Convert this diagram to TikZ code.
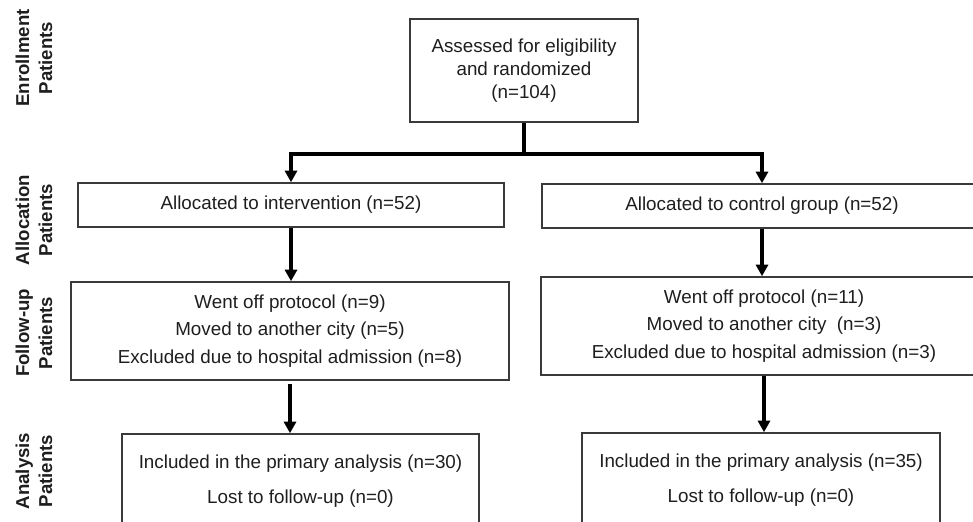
\documentclass[tikz,border=0pt]{standalone}
\usepackage{fontspec}
\setmainfont{Liberation Sans}
\usepackage{tikz}
\usetikzlibrary{arrows.meta}
\definecolor{boxgray}{HTML}{3a3a3a}
\definecolor{inkgray}{HTML}{1e1e1e}

\begin{document}
\begin{tikzpicture}[
    box/.style={draw=boxgray, line width=0.9pt, inner sep=0pt, align=center,
                text=inkgray, font=\fontsize{10.7}{13}\selectfont},
    phase/.style={rotate=90, align=center, text=inkgray,
                  font=\bfseries\fontsize{10.6}{13}\selectfont},
    link/.style={line width=2pt, black},
    arrow/.style={link, -{Triangle[length=0.23cm, width=0.24cm]}}
]
\useasboundingbox (0,0) rectangle (19.46,-10.42);

% phase labels on the left
\node[phase] (pEnroll) at (0.68,-1.16) {Enrollment\\Patients};
\node[phase] (pAlloc) at (0.68,-4.40) {Allocation\\Patients};
\node[phase] (pFollow) at (0.68,-6.66) {Follow-up\\Patients};
\node[phase] (pAnalysis) at (0.68,-9.42) {Analysis\\Patients};

% boxes
\node[box, minimum width=4.56cm, minimum height=2.06cm] (enroll) at (10.48,-1.41)
    {Assessed for eligibility\\and randomized\\(n=104)};
\node[box, minimum width=8.52cm, minimum height=0.88cm] (alloc1) at (5.82,-4.10)
    {Allocated to intervention (n=52)};
\node[box, minimum width=8.80cm, minimum height=0.88cm] (alloc2) at (15.24,-4.12)
    {Allocated to control group (n=52)};
\node[box, minimum width=8.76cm, minimum height=1.96cm, font=\fontsize{10.7}{15.6}\selectfont] (follow1) at (5.80,-6.62)
    {Went off protocol (n=9)\\Moved to another city (n=5)\\Excluded due to hospital admission (n=8)};
\node[box, minimum width=8.92cm, minimum height=1.96cm, font=\fontsize{10.7}{15.6}\selectfont] (follow2) at (15.28,-6.52)
    {Went off protocol (n=11)\\Moved to another city \ (n=3)\\Excluded due to hospital admission (n=3)};
\node[box, minimum width=7.14cm, minimum height=1.90cm, font=\fontsize{10.7}{19.9}\selectfont] (analysis1) at (6.01,-9.63)
    {Included in the primary analysis (n=30)\\Lost to follow-up (n=0)};
\node[box, minimum width=7.16cm, minimum height=1.90cm, font=\fontsize{10.7}{19.9}\selectfont] (analysis2) at (15.22,-9.61)
    {Included in the primary analysis (n=35)\\Lost to follow-up (n=0)};

% connectors
\coordinate (split) at (10.48,-3.08);
\draw[link] (enroll.south) -- (split);
\draw[arrow] (split) -| (alloc1.north);
\draw[arrow] (split) -| (alloc2.north);
\draw[arrow] (alloc1.south) -- (alloc1.south |- follow1.north);
\draw[arrow] (alloc2.south) -- (alloc2.south |- follow2.north);
\draw[arrow] ([yshift=-0.06cm]follow1.south) -- (follow1.south |- analysis1.north);
\draw[arrow] (follow2.south) -- (follow2.south |- analysis2.north);
\end{tikzpicture}
\end{document}
